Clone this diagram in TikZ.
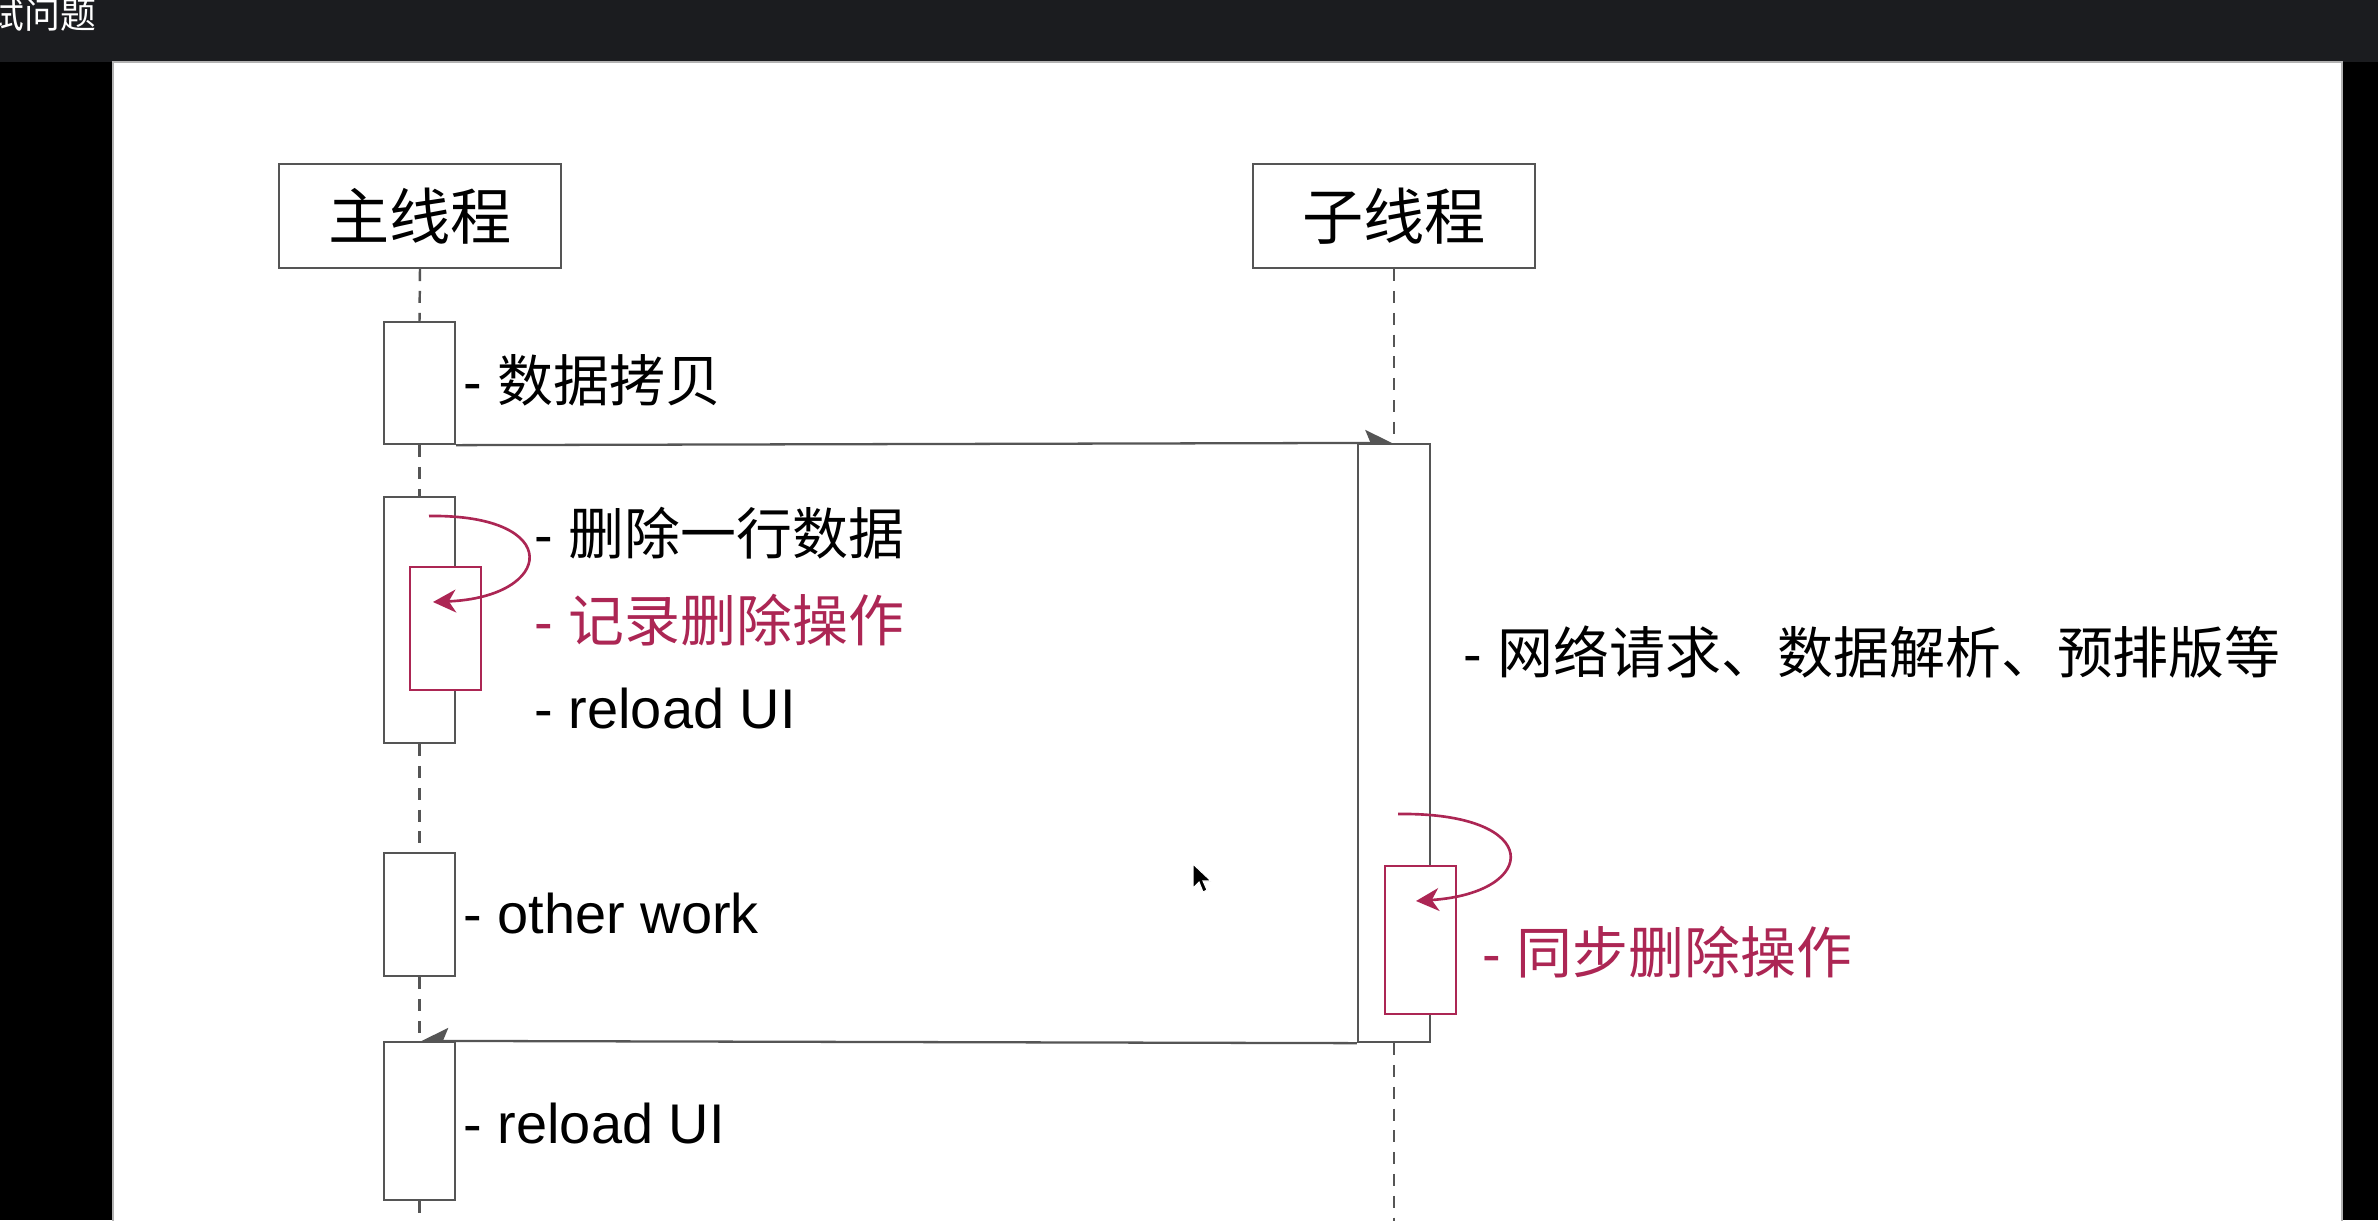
\documentclass[tikz,border=0pt]{standalone}
\usepackage{fontspec}
\setmainfont{Liberation Sans}
\newfontfamily\cjk{Noto Sans CJK SC}
\usetikzlibrary{arrows.meta,fit}
\definecolor{lin}{RGB}{85,85,85}
\definecolor{accent}{RGB}{172,38,84}
\definecolor{topbar}{RGB}{27,28,31}
\tikzset{
  act/.style={draw=lin, line width=0.65pt, fill=white, inner sep=0pt},
  redact/.style={draw=accent, line width=0.65pt, fill=white, inner sep=0pt},
  head/.style={draw=lin, line width=0.65pt, fill=white, inner sep=0pt,
    minimum width=2.82cm, minimum height=1.04cm,
    font=\fontsize{17.4}{20}\selectfont\cjk},
  life/.style={draw=lin, line width=0.7pt, dash pattern=on 3.4pt off 2.8pt},
  msg/.style={draw=lin, line width=0.65pt, -{Stealth[harpoon,length=7.5pt,width=7.4pt,inset=1.5pt]}},
  msgback/.style={draw=lin, line width=0.65pt, -{Stealth[harpoon,swap,length=7.5pt,width=7.4pt,inset=1.5pt]}},
  selfcall/.style={draw=accent, line width=0.75pt, -{Stealth[length=6.5pt,width=6.5pt,inset=2pt]}},
  lbl/.style={inner sep=0pt, anchor=base west, font=\fontsize{15.9}{18}\selectfont},
}
\begin{document}
\begin{tikzpicture}[x=0.01cm,y=-0.01cm]
\useasboundingbox (0,0) rectangle (2378,1220);
\clip (0,0) rectangle (2378,1220);
% screen background
\fill[black] (0,0) rectangle (2378,1220);
\fill[topbar] (0,0) rectangle (2378,62);
\filldraw[fill=white, draw=gray!60, line width=0.5pt] (113,62) rectangle (2342,1230);
\node[inner sep=0pt, anchor=base west, text=white,
      font=\fontsize{10.2}{12}\selectfont\cjk] (title) at (-12,28) {试问题};

% headers
\node[head] (h1) at (420,216) {主线程};
\node[head] (h2) at (1394,216) {子线程};

% activations of main thread
\node[act, fit={(384,322)(455,444)}] (a1) {};
\node[act, fit={(384,497)(455,743)}] (a2) {};
\node[redact, fit={(410,567)(481,690)}] (r1) {};
\node[act, fit={(384,853)(455,976)}] (a3) {};
\node[act, fit={(384,1042)(455,1200)}] (a4) {};
% activation of child thread
\node[act, fit={(1358,444)(1430,1042)}] (ca) {};
\node[redact, fit={(1385,866)(1456,1014)}] (r2) {};

\coordinate (e1) at (419.5,1230);
\coordinate (e2) at (1394,1230);

% lifelines
\draw[life] (h1.south) -- (a1.north);
\draw[life] (a1.south) -- (a2.north);
\draw[life] (a2.south) -- (a3.north);
\draw[life] (a3.south) -- (a4.north);
\draw[life] (a4.south) -- (e1);
\draw[life] (h2.south) -- (ca.north);
\draw[life] (ca.south) -- (e2);

% messages
\draw[msg] (a1.south east) -- (ca.north);
\draw[msgback] (ca.south west) -- (a4.north);

% self calls
\coordinate (s1) at (429,516);
\coordinate (s1e) at (433,602);
\draw[selfcall] (s1) .. controls (565,514) and (555,597) .. (s1e);
\coordinate (s2) at (1398,814);
\coordinate (s2e) at (1416,901);
\draw[selfcall] (s2) .. controls (1545,812) and (1540,893) .. (s2e);

% labels
\node[lbl] (t1) at (463,401) {- {\cjk 数据拷贝}};
\node[lbl] (t2) at (534,554) {- {\cjk 删除一行数据}};
\node[lbl, text=accent] (t3) at (534,641) {- {\cjk 记录删除操作}};
\node[lbl] (t4) at (534,728) {- reload UI};
\node[lbl] (t5) at (463,933) {- other work};
\node[lbl] (t8) at (463,1143) {- reload UI};
\node[lbl] (t6) at (1463,673) {- {\cjk 网络请求、数据解析、预排版等}};
\node[lbl, text=accent] (t7) at (1482,973) {- {\cjk 同步删除操作}};

% mouse cursor
\filldraw[fill=black, draw=white, line width=0.3pt]
  (1193,864) -- (1193,888) -- (1199,882) -- (1203,892) -- (1207,890) -- (1203,881) -- (1211,881) -- cycle;
\end{tikzpicture}
\end{document}
